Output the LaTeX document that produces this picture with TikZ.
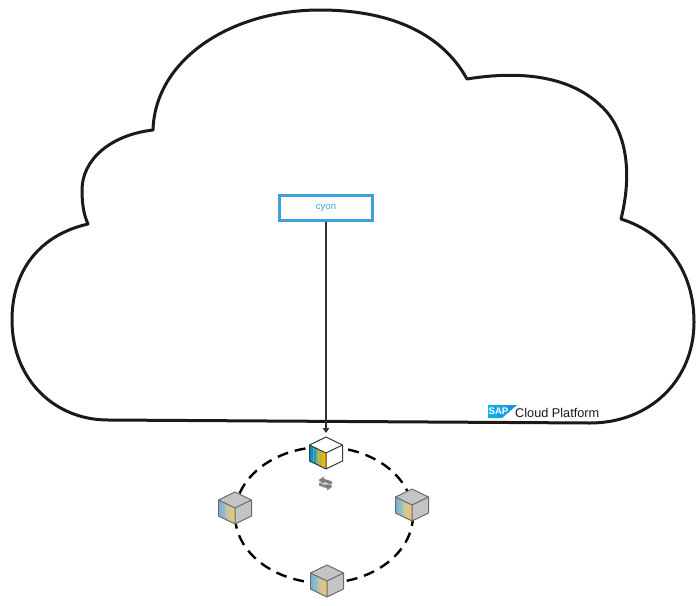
\documentclass[tikz,border=0pt]{standalone}
\usepackage{fontspec}
\setmainfont{Liberation Sans}
\usetikzlibrary{arrows.meta}
\definecolor{cyonblue}{HTML}{3FA0DC}
\definecolor{inkdark}{HTML}{1A1A1A}
\definecolor{sapblue}{HTML}{1A8FE0}
\definecolor{cubeedge}{HTML}{3A3A3A}
\definecolor{edgegray}{HTML}{6A6A6A}
\definecolor{facegray}{HTML}{C4C4C4}
\definecolor{iconegray}{HTML}{7F7F7F}
\definecolor{sa}{HTML}{0B8FD2}
\definecolor{sb}{HTML}{2E9AA6}
\definecolor{sc}{HTML}{7FAE6E}
\definecolor{sd}{HTML}{B6B24A}
\definecolor{se}{HTML}{F2B705}
\definecolor{fa}{HTML}{7FB4D4}
\definecolor{fb}{HTML}{8FBBC4}
\definecolor{fc}{HTML}{B6C4AC}
\definecolor{fd}{HTML}{D0C696}
\definecolor{fe}{HTML}{E2C77C}
\newcommand{\cubestripes}[5]{%
  \fill[#1] (-16.5,-8) -- (-12.5,-6.06) -- (-12.5,9.94) -- (-16.5,8) -- cycle;
  \fill[#2] (-12.5,-6.06) -- (-10,-4.85) -- (-10,11.15) -- (-12.5,9.94) -- cycle;
  \fill[#3] (-10,-4.85) -- (-7.5,-3.64) -- (-7.5,12.36) -- (-10,11.15) -- cycle;
  \fill[#4] (-7.5,-3.64) -- (-4,-1.94) -- (-4,14.06) -- (-7.5,12.36) -- cycle;
  \fill[#5] (-4,-1.94) -- (0,0) -- (0,16) -- (-4,14.06) -- cycle;}
\tikzset{
  cloudline/.style={draw=inkdark,line width=3pt,line join=round},
  ringline/.style={draw=black,line width=2.4pt,dash pattern=on 11pt off 7pt},
  linkline/.style={draw=inkdark!90,line width=1.1pt,-{Triangle[length=5pt,width=6.5pt]}},
  cyonbox/.style={draw=cyonblue,fill=white,line width=2.4pt,minimum width=93pt,minimum height=25pt,inner sep=0pt,text=cyonblue,font=\fontsize{9.5}{10}\selectfont},
  platformlabel/.style={font=\fontsize{12.7}{14}\selectfont,text=inkdark,inner sep=0pt,anchor=base west},
  saplabel/.style={font=\fontsize{9.6}{10}\selectfont\bfseries,text=white,inner sep=0pt},
  swapicon/.style={fill=iconegray,draw=white,line width=0.4pt},
  pics/activecube/.style={code={
    \fill[white] (0,-16) -- (16.5,-8) -- (16.5,8) -- (0,16) -- (-16.5,8) -- (-16.5,-8) -- cycle;
    \cubestripes{sa}{sb}{sc}{sd}{se}
    \draw[cubeedge,line width=1pt,line join=round] (0,-16) -- (16.5,-8) -- (16.5,8) -- (0,16) -- (-16.5,8) -- (-16.5,-8) -- cycle (-16.5,-8) -- (0,0) -- (16.5,-8) (0,0) -- (0,16);
  }},
  pics/passivecube/.style={code={
    \fill[facegray] (0,-16) -- (16.5,-8) -- (16.5,8) -- (0,16) -- (-16.5,8) -- (-16.5,-8) -- cycle;
    \cubestripes{fa}{fb}{fc}{fd}{fe}
    \draw[edgegray,line width=1pt,line join=round] (0,-16) -- (16.5,-8) -- (16.5,8) -- (0,16) -- (-16.5,8) -- (-16.5,-8) -- cycle (-16.5,-8) -- (0,0) -- (16.5,-8) (0,0) -- (0,16);
  }},
}
\begin{document}
\begin{tikzpicture}[x=1pt,y=-1pt]
\useasboundingbox (0,0) rectangle (700,605);
\fill[white] (0,0) rectangle (700,605);
% cloud
\draw[cloudline] (108,420) -- (590,423)
  .. controls (650,423) and (694,380) .. (694,322)
  .. controls (694,270) and (665,233) .. (621,219)
  .. controls (632,175) and (628,130) .. (600,105)
  .. controls (565,72) and (510,72) .. (467,79)
  .. controls (440,30) and (385,10) .. (320,10)
  .. controls (230,10) and (155,60) .. (153,130)
  .. controls (110,135) and (82,160) .. (82,190)
  .. controls (82,205) and (84,215) .. (88,224)
  .. controls (40,235) and (12,270) .. (12,320)
  .. controls (12,380) and (55,420) .. (108,420) -- cycle;
% ring
\draw[ringline] (324,515) ellipse [x radius=89, y radius=68];
% service box and link
\node[cyonbox] (cyon) at (326,208) {cyon};
\coordinate (leadertop) at (326,433);
\draw[linkline] (cyon.south) -- (leadertop);
% cubes
\pic at (326,453) {activecube};
\pic at (235,508) {passivecube};
\pic at (412,505) {passivecube};
\pic at (327,581) {passivecube};
% swap icon
\fill[swapicon] (333,486.5) -- (327,491) -- (327,488.5) -- (319,486) -- (319,482) -- (327,484.5) -- (327,481.5) -- cycle;
\fill[swapicon] (318,480) -- (324,476) -- (324,478.5) -- (332,481) -- (332,485) -- (324,482.5) -- (324,485) -- cycle;
% SAP logo
\shade[left color=sapblue!70!cyan,right color=sapblue] (488,405) -- (517,405) -- (502,418) -- (488,418) -- cycle;
\node[saplabel] (sap) at (498.5,411.5) {SAP};
\node[platformlabel] (platform) at (515,417) {Cloud Platform};
\end{tikzpicture}
\end{document}
